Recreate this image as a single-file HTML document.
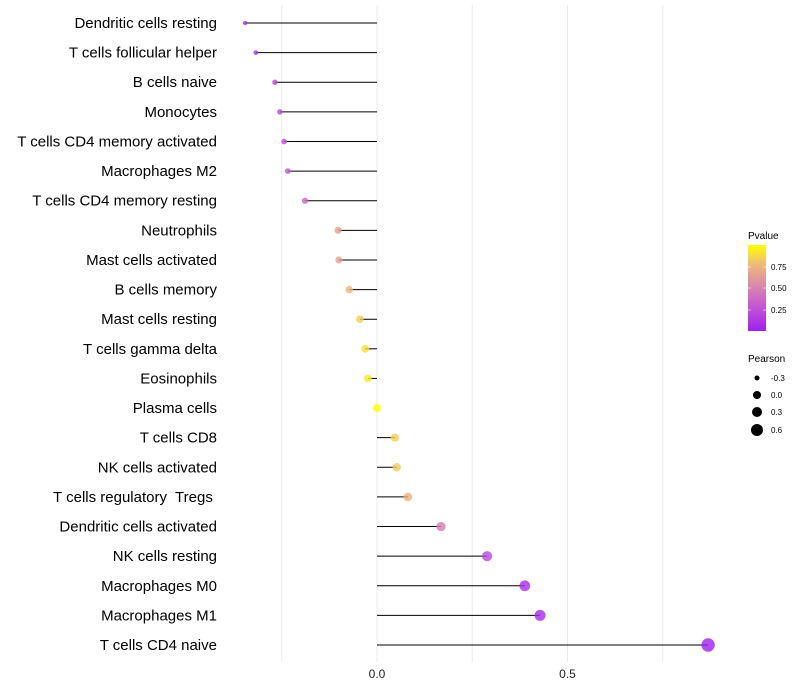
<!DOCTYPE html>
<html><head><meta charset="utf-8"><style>
body{margin:0;background:#fff;font-family:"Liberation Sans",sans-serif}
svg{display:block}
text{white-space:pre}
</style></head><body>
<svg id="chart" width="800" height="700">
<defs><linearGradient id="pg" x1="0" y1="1" x2="0" y2="0">
<stop offset="0" stop-color="#A020F0"/><stop offset="0.3" stop-color="#C55AD0"/><stop offset="0.55" stop-color="#DC8CA8"/><stop offset="0.8" stop-color="#F0C070"/><stop offset="1" stop-color="#FFFF00"/>
</linearGradient></defs>
<g id="grid"></g><g id="marks"></g><g id="labels"></g><g id="axis"></g>
<g>
<text x="748" y="239" font-size="10" fill="#000">Pvalue</text>
<rect x="748" y="245" width="18" height="86" fill="url(#pg)"/>
<line x1="748" x2="751" y1="267" y2="267" stroke="#fff" stroke-opacity=".6"/><line x1="763" x2="766" y1="267" y2="267" stroke="#fff" stroke-opacity=".6"/>
<line x1="748" x2="751" y1="288" y2="288" stroke="#fff" stroke-opacity=".6"/><line x1="763" x2="766" y1="288" y2="288" stroke="#fff" stroke-opacity=".6"/>
<line x1="748" x2="751" y1="310" y2="310" stroke="#fff" stroke-opacity=".6"/><line x1="763" x2="766" y1="310" y2="310" stroke="#fff" stroke-opacity=".6"/>
<text x="771" y="270" font-size="8" fill="#000">0.75</text>
<text x="771" y="291" font-size="8" fill="#000">0.50</text>
<text x="771" y="313" font-size="8" fill="#000">0.25</text>
</g>
<g>
<text x="748" y="362" font-size="10" fill="#000">Pearson</text>
<circle cx="757" cy="378" r="2.5"/><text x="771" y="381" font-size="8">-0.3</text>
<circle cx="757" cy="395" r="4"/><text x="771" y="398" font-size="8">0.0</text>
<circle cx="757" cy="412" r="5"/><text x="771" y="415" font-size="8">0.3</text>
<circle cx="757" cy="430" r="6"/><text x="771" y="433" font-size="8">0.6</text>
</g>
</svg>
<script>
const categories=["Dendritic cells resting","T cells follicular helper","B cells naive","Monocytes","T cells CD4 memory activated","Macrophages M2","T cells CD4 memory resting","Neutrophils","Mast cells activated","B cells memory","Mast cells resting","T cells gamma delta","Eosinophils","Plasma cells","T cells CD8","NK cells activated","T cells regulatory  Tregs ","Dendritic cells activated","NK cells resting","Macrophages M0","Macrophages M1","T cells CD4 naive"];
const pearson=[-0.346,-0.318,-0.268,-0.255,-0.244,-0.234,-0.189,-0.102,-0.1,-0.073,-0.045,-0.031,-0.024,0.0,0.047,0.052,0.081,0.168,0.289,0.388,0.428,0.869];
const pvalue=[0.05,0.1,0.2,0.23,0.25,0.28,0.38,0.65,0.65,0.75,0.85,0.9,0.92,1.0,0.85,0.83,0.73,0.48,0.2,0.08,0.05,0.0];
const xTicks=[0,0.5];
const xTickLabels=["0.0","0.5"];
const gridVals=[-0.25,0,0.25,0.5,0.75];
const NS="http://www.w3.org/2000/svg";
const X=v=>377+v*381;
const Y=i=>23+i*(645-23)/(categories.length-1);
const R=v=>Math.sqrt(Math.max(1,16.15+33*v));
const stops=[[0,[160,32,240]],[0.3,[197,90,208]],[0.55,[220,140,168]],[0.8,[240,192,112]],[1,[255,255,0]]];
function col(p){for(let k=1;k<stops.length;k++){if(p<=stops[k][0]||k==stops.length-1){const a=stops[k-1],b=stops[k];const t=Math.min(1,Math.max(0,(p-a[0])/(b[0]-a[0])));
 return `rgb(${a[1].map((c,i)=>Math.round(c+(b[1][i]-c)*t))})`;}}}
function mk(tag,attrs,parent){const e=document.createElementNS(NS,tag);for(const k in attrs)e.setAttribute(k,attrs[k]);parent.appendChild(e);return e;}
const grid=document.getElementById('grid'),marks=document.getElementById('marks'),labels=document.getElementById('labels'),axis=document.getElementById('axis');
gridVals.forEach(v=>{const l=mk('line',{x1:X(v),x2:X(v),y1:5,y2:662,stroke:'#ebebeb','stroke-width':1},grid);

});
categories.forEach((c,i)=>{
 const s=mk('line',{x1:X(0),x2:X(pearson[i]),y1:Y(i),y2:Y(i),stroke:'#000','stroke-width':1},marks);
 
 
 const d=mk('circle',{cx:X(pearson[i]),cy:Y(i),r:R(pearson[i]),fill:col(pvalue[i]),'fill-opacity':0.8},marks);
 
 
 const t=mk('text',{x:217,y:Y(i)+5,'text-anchor':'end','font-size':15,fill:'#000'},labels);
 t.textContent=c;
 
 
});
xTicks.forEach((v,i)=>{const t=mk('text',{x:X(v),y:678,'text-anchor':'middle','font-size':12,fill:'#222'},axis);
 t.textContent=xTickLabels[i];
 
 });
</script>
</body></html>
